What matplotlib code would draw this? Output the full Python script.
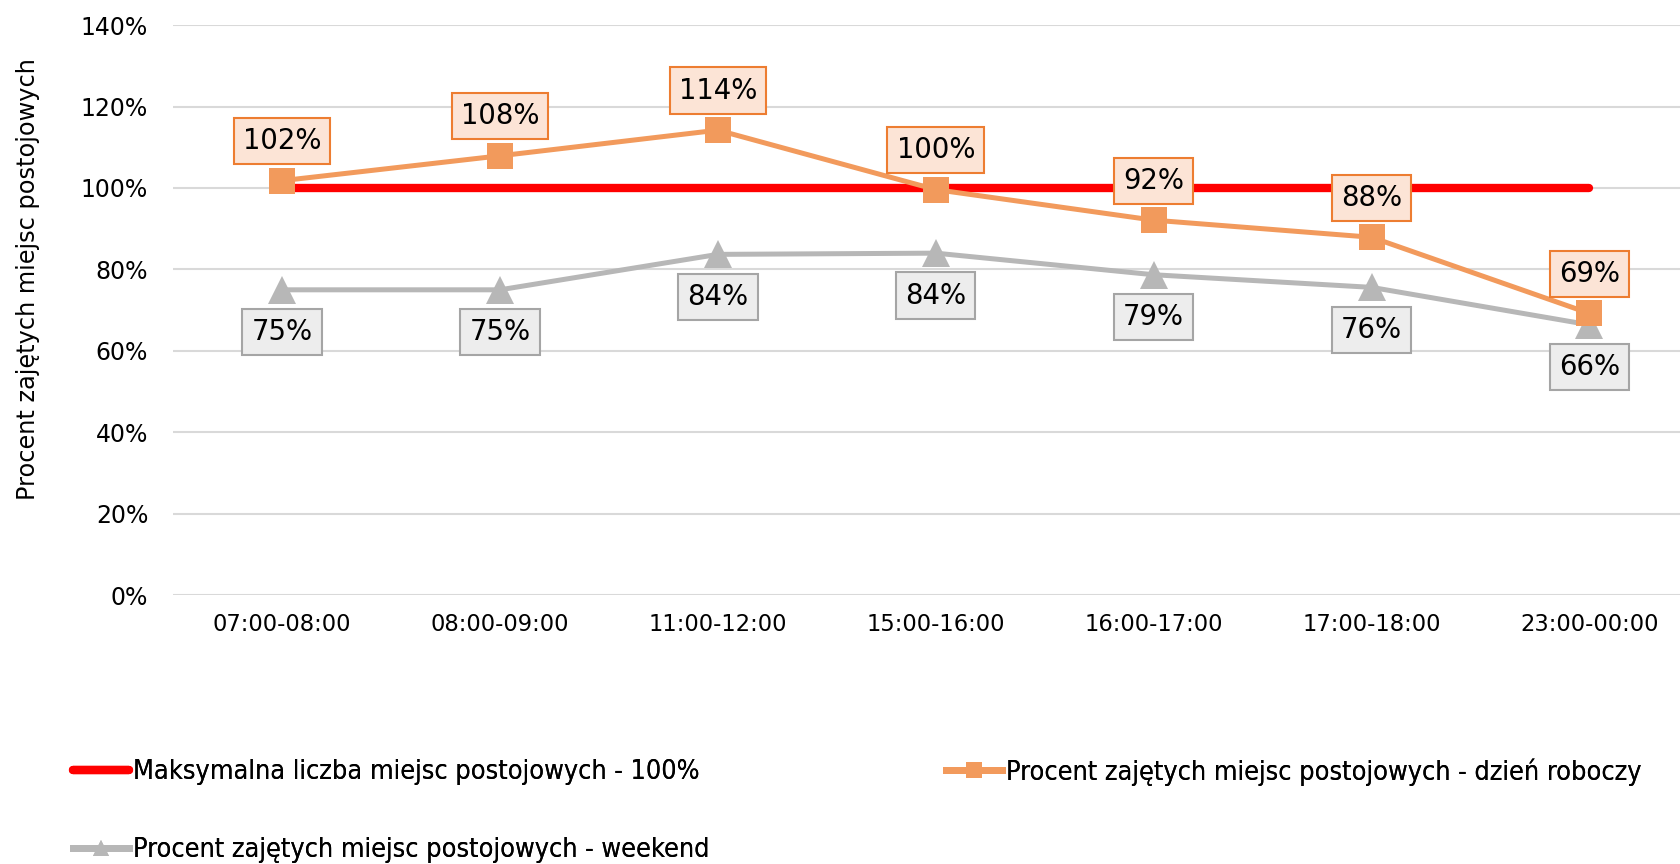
import matplotlib
matplotlib.use("Agg")
import matplotlib.pyplot as plt
from matplotlib import font_manager
from matplotlib.lines import Line2D

# Data
hours = ["07:00-08:00", "08:00-09:00", "11:00-12:00", "15:00-16:00",
         "16:00-17:00", "17:00-18:00", "23:00-00:00"]
max_places = [100, 100, 100, 100, 100, 100, 100]
workday = [101.8, 107.9, 114.2, 99.6, 92.1, 87.9, 69.2]
weekend = [75.0, 75.0, 83.7, 84.0, 78.7, 75.6, 66.4]

labels = {
    "max": "Maksymalna liczba miejsc postojowych - 100%",
    "workday": "Procent zajętych miejsc postojowych - dzień roboczy",
    "weekend": "Procent zajętych miejsc postojowych - weekend",
}

red = "#FF0000"
orange = "#F29A5C"
grey = "#B7B7B7"

plt.rcParams['font.family'] = ['DejaVu Sans']

# condensed font for the legend, if one is around
fonts = font_manager.fontManager.ttflist
has_cond = any(f.name == "DejaVu Sans" and f.stretch == "condensed" for f in fonts)
has_narrow = any(f.name == "Liberation Sans Narrow" for f in fonts)
if has_cond:
    leg_font = dict(family="DejaVu Sans", stretch="condensed", size=19.4)
elif has_narrow:
    leg_font = dict(family="Liberation Sans Narrow", size=20.5)
else:
    leg_font = dict(family="DejaVu Sans", size=17.3)
leg_px = leg_font["size"] * 100 / 72

fig = plt.figure(figsize=(16.81, 8.64), dpi=100)
ax = fig.add_axes([0.103, 0.311, 0.897, 0.66])

x = list(range(len(hours)))

ax.plot(x, max_places, color=red, linewidth=6, solid_capstyle="round", zorder=3)
ax.plot(x, weekend, color=grey, linewidth=3.6, marker="^", markersize=20,
        markeredgewidth=0, zorder=4)
ax.plot(x, workday, color=orange, linewidth=3.6, marker="s", markersize=19,
        markeredgewidth=0, zorder=5)

# data labels
for xi, v in zip(x, workday):
    ax.annotate(f"{v:.0f}%", (xi, v), xytext=(0, 28.5), textcoords="offset points",
                ha="center", va="center", fontsize=19.8, zorder=6,
                bbox=dict(boxstyle="square,pad=0.33", facecolor="#FCE4D6",
                          edgecolor="#ED7D31", linewidth=1.5))
for xi, v in zip(x, weekend):
    ax.annotate(f"{v:.0f}%", (xi, v), xytext=(0, -30.5), textcoords="offset points",
                ha="center", va="center", fontsize=19.8, zorder=6,
                bbox=dict(boxstyle="square,pad=0.33", facecolor="#EDEDED",
                          edgecolor="#A5A5A5", linewidth=1.5))

ax.set_xlim(-0.5, 6.42)
ax.set_ylim(0, 140)
ax.set_yticks(range(0, 141, 20))
ax.set_yticklabels([f"{t}%" for t in range(0, 141, 20)])
ax.set_xticks(x)
ax.set_xticklabels(hours)
ax.tick_params(axis="y", length=0, pad=18, labelsize=17)
ax.tick_params(axis="x", length=0, pad=13, labelsize=16.3)
ax.grid(axis="y", color="#D9D9D9", linewidth=1.5)
ax.set_axisbelow(True)
for s in ax.spines.values():
    s.set_visible(False)

ax.set_ylabel("Procent zajętych miejsc postojowych", fontsize=17.3)
ax.yaxis.set_label_coords(-0.088, 0.555)

# legend, one entry per box so each sits where it should
h_max = Line2D([], [], color=red, linewidth=6, solid_capstyle="round")
h_work = Line2D([], [], color=orange, linewidth=5, marker="s", markersize=11,
                markeredgewidth=0)
h_week = Line2D([], [], color=grey, linewidth=5, marker="^", markersize=11,
                markeredgewidth=0)

entries = [
    (h_max, labels["max"], 0.0434, 0.1065),
    (h_work, labels["workday"], 0.5625, 0.1065),
    (h_week, labels["weekend"], 0.0434, 0.016),
]
for h, lab, lx, ly in entries:
    leg = fig.legend([h], [lab], loc="center left", bbox_to_anchor=(lx, ly),
                     frameon=False, prop=leg_font, handlelength=56 / leg_px,
                     handletextpad=4 / leg_px, borderpad=0, borderaxespad=0)
    fig.add_artist(leg)

fig.savefig("out.png", dpi=100)
